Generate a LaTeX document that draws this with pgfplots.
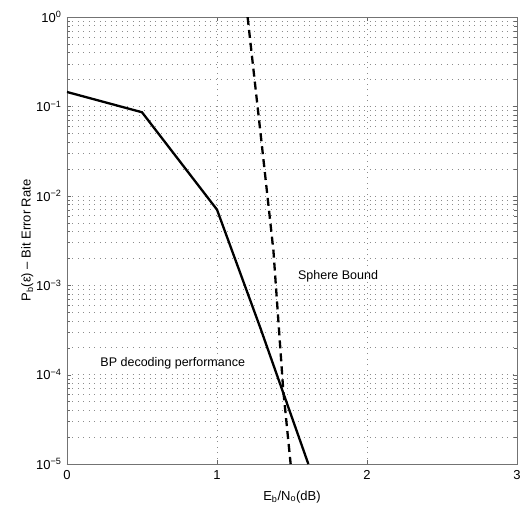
\documentclass[border=0pt]{standalone}
\usepackage{fontspec}
\setmainfont{Liberation Sans}
\usepackage{pgfplots}
\pgfplotsset{compat=1.18}
\begin{document}
\begin{tikzpicture}
\begin{axis}[
    scale only axis,
    width=450pt,
    height=447pt,
    ymode=log,
    xmin=0, xmax=3,
    ymin=1e-5, ymax=1,
    xtick={0,1,2,3},
    xticklabels={0,1,2,3},
    ytick={1e-5,1e-4,1e-3,1e-2,1e-1,1},
    yticklabels={10\textsuperscript{−5},10\textsuperscript{−4},10\textsuperscript{−3},10\textsuperscript{−2},10\textsuperscript{−1},10\textsuperscript{0}},
    tick label style={font=\fontsize{13}{15}\selectfont},
    label style={font=\fontsize{13}{15}\selectfont},
    xticklabel style={yshift=-3pt},
    yticklabel style={xshift=-2pt},
    xmajorgrids, ymajorgrids, yminorgrids,
    major grid style={black!45, dash pattern=on 0.9pt off 4.6pt},
    minor grid style={black!45, dash pattern=on 0.9pt off 4.6pt},
    axis line style={black!55},
    tick style={black!60},
    tick align=inside,
    xlabel={E\textsubscript{b}/N\textsubscript{o}(dB)},
    ylabel={P\textsubscript{b}(ε) – Bit Error Rate},
    xlabel style={yshift=-4pt},
    ylabel style={yshift=-4pt},
    clip=true,
]
\addplot[black, line width=2.3pt] coordinates {
    (0,0.145) (0.5,0.086) (1,0.0070) (1.287,3.4e-4) (1.609,1e-5)
};
\addplot[black, line width=2.3pt, dash pattern=on 8pt off 5pt] coordinates {
    (1.204,1) (1.298,0.0383) (1.376,0.00245) (1.442,6.6e-5) (1.491,1e-5)
};
\node[font=\fontsize{12.5}{15}\selectfont] at (axis cs:1.807,1.26e-3) {Sphere Bound};
\node[font=\fontsize{12.5}{15}\selectfont] at (axis cs:0.705,1.33e-4) {BP decoding performance};
\end{axis}
\pgfresetboundingbox
\useasboundingbox ([shift={(-67pt,-40pt)}]current axis.south west) rectangle ([shift={(5pt,17pt)}]current axis.north east);
\end{tikzpicture}
\end{document}
